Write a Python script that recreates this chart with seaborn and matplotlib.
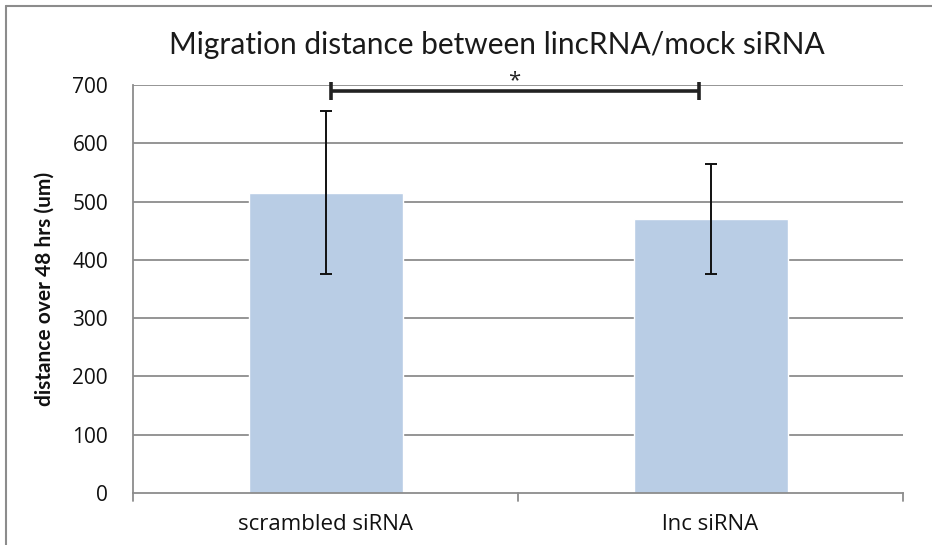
import matplotlib
matplotlib.use("Agg")
import matplotlib.pyplot as plt
import seaborn as sns
import pandas as pd
from matplotlib.lines import Line2D

groups = ["scrambled siRNA", "lnc siRNA"]
means = [515, 470]
errors = [140, 94]
yticks = [0, 100, 200, 300, 400, 500, 600, 700]
sig_level = 689
sig_span = (0.013, 0.969)

sns.set_theme(style="white")
plt.rcParams["font.family"] = ["Open Sans", "DejaVu Sans"]

df = pd.DataFrame({"group": groups, "distance": means})

fig = plt.figure(figsize=(9.32, 5.45), dpi=100)
ax = fig.add_axes([133 / 932, 1 - 493 / 545, 770 / 932, 408 / 545])

grid_c = "#8c8c8c"
for y in yticks[1:]:
    ax.axhline(y, color=grid_c, lw=1.3, zorder=0)

sns.barplot(data=df, x="group", y="distance", color="#b9cde5", width=0.4,
            saturation=1, errorbar=None, ax=ax, zorder=2)
ax.errorbar(range(len(groups)), means, yerr=errors, fmt="none",
            ecolor="#111111", elinewidth=1.4, capsize=4.3, capthick=1.4, zorder=3)

# significance bracket
ax.plot(sig_span, [sig_level, sig_level], color="#222222", lw=2.6,
        solid_capstyle="butt", zorder=4, clip_on=False)
for xb in sig_span:
    ax.plot([xb, xb], [sig_level + 15.5, sig_level - 15.5], color="#222222",
            lw=2.6, solid_capstyle="butt", zorder=4, clip_on=False)
ax.text(0.491, 698, "*", ha="center", va="baseline", fontsize=16, color="#222222")

ax.set_xlim(-0.5, 1.5)
ax.set_ylim(0, 700)
ax.set_yticks(yticks)
ax.set_yticklabels([str(v) for v in yticks], fontsize=15, color="#111111")
ax.set_xticks([0, 1])
ax.set_xticklabels(groups, fontsize=16, color="#111111")
ax.tick_params(axis="x", length=0, pad=15)
ax.tick_params(axis="y", length=8, width=1.3, color=grid_c, pad=10, direction="out")
# category separator ticks on the x axis
for xt in [-0.5, 0.5, 1.5]:
    ax.plot([xt, xt], [0, -13], color=grid_c, lw=1.3, clip_on=False)

for s in ["top", "right"]:
    ax.spines[s].set_visible(False)
for s in ["left", "bottom"]:
    ax.spines[s].set_color(grid_c)
    ax.spines[s].set_linewidth(1.3)

ax.set_xlabel("")
ax.set_ylabel("distance over 48 hrs (um)", fontsize=15, fontweight="bold",
              family=["Lato", "DejaVu Sans"], color="#111111")
ax.yaxis.set_label_coords((55 - 133) / 770, 0.5)

fig.text(497 / 932, 1 - 45 / 545, "Migration distance between lincRNA/mock siRNA",
         ha="center", va="center", fontsize=21.5, fontweight="normal", color="#1a1a1a",
         family=["Lato", "DejaVu Sans"])

# chart frame
fig.add_artist(Line2D([6 / 932, 6 / 932], [0, 1 - 6 / 545], color="#8c8c8c", lw=1.5))
fig.add_artist(Line2D([6 / 932, 1], [1 - 6 / 545, 1 - 6 / 545], color="#8c8c8c", lw=1.5))

fig.savefig("out.png", dpi=100)
